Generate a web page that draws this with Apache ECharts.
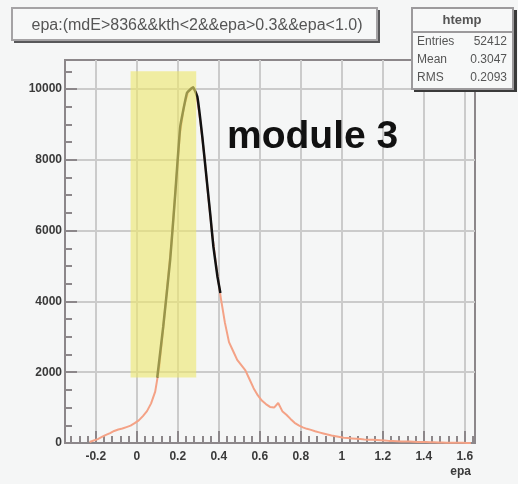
<!DOCTYPE html>
<html>
<head>
<meta charset="utf-8">
<script src="https://cdn.jsdelivr.net/npm/echarts@6/dist/echarts.min.js"></script>
<style>
  html, body { margin: 0; padding: 0; background: #f5f6f6; }
  #chart { width: 518px; height: 484px; }
</style>
</head>
<body>
<div id="chart"></div>
<script>
// epa distribution, bins of 0.02
const binCenters = [
  -0.23, -0.21, -0.19, -0.17, -0.15, -0.13, -0.11, -0.09, -0.07, -0.05, -0.03, -0.01,
  0.01, 0.03, 0.05, 0.07, 0.09, 0.11, 0.13, 0.15, 0.17, 0.19, 0.21, 0.23, 0.25, 0.27, 0.29,
  0.31, 0.33, 0.35, 0.37, 0.39, 0.41, 0.43, 0.45, 0.47, 0.49, 0.51, 0.53, 0.55, 0.57, 0.59,
  0.61, 0.63, 0.65, 0.67, 0.69, 0.71, 0.73, 0.75, 0.77, 0.79, 0.81, 0.83, 0.85, 0.87, 0.89,
  0.91, 0.93, 0.95, 0.97, 0.99, 1.01, 1.03, 1.05, 1.07, 1.09, 1.11, 1.13, 1.15, 1.17, 1.19,
  1.21, 1.23, 1.25, 1.27, 1.29, 1.31, 1.33, 1.35, 1.37, 1.39, 1.41, 1.43, 1.45, 1.47, 1.49,
  1.51, 1.53, 1.55, 1.57, 1.59, 1.61, 1.63
];
const binCounts = [
  30, 70, 110, 170, 230, 280, 340, 380, 410, 450, 490, 560,
  640, 760, 900, 1120, 1450, 2150, 3300, 4500, 5700, 7200, 8700, 9500, 9900, 10050, 9900,
  9100, 8100, 6900, 5800, 4900, 4100, 3400, 2850, 2600, 2350, 2200, 2050, 1800, 1550, 1350,
  1200, 1100, 1020, 1000, 1130, 900, 800, 680, 570, 500, 440, 400, 370, 330, 300,
  270, 240, 210, 190, 170, 150, 140, 130, 120, 110, 100, 95, 90, 85, 80,
  70, 60, 55, 50, 45, 40, 40, 35, 30, 30, 25, 20, 20, 15, 15,
  10, 10, 8, 5, 5, 3, 2
];

// fitted peak shape
const fitX = [0.10, 0.129, 0.163, 0.188, 0.212, 0.245, 0.275, 0.296, 0.32, 0.345, 0.36, 0.374, 0.394, 0.408];
const fitY = [1850, 3280, 5170, 7060, 8930, 9890, 10050, 9770, 8640, 7230, 6380, 5540, 4690, 4240];

// highlighted selection window
const bandX = [-0.03, 0.29];
const bandY = [1850, 10500];

// axes
const xRange = [-0.35, 1.65];
const yRange = [0, 10820];
const xMajorTicks = [-0.2, 0, 0.2, 0.4, 0.6, 0.8, 1.0, 1.2, 1.4, 1.6];
const yMajorTicks = [0, 2000, 4000, 6000, 8000, 10000];
const xTitle = 'epa';
const plotTitle = 'epa:(mdE>836&&kth<2&&epa>0.3&&epa<1.0)';
const moduleLabel = 'module 3';
const statsName = 'htemp';
const statsRows = [['Entries', '52412'], ['Mean', '0.3047'], ['RMS', '0.2093']];

// minor tick positions between the labelled ones
const xMinorTicks = [];
for (let i = -8; i <= 41; i++) {
  const v = +(i * 0.04).toFixed(2);
  if (i % 5 !== 0 && v > xRange[0] && v < xRange[1]) xMinorTicks.push(v);
}
const yMinorTicks = [];
for (let v = 500; v < yRange[1]; v += 500) {
  if (v % 2000 !== 0) yMinorTicks.push(v);
}

const histData = binCenters.map((x, i) => [x, binCounts[i]]);
const fitData = fitX.map((x, i) => [x, fitY[i]]);

const axisGray = '#8c878a';
const gridGray = '#cbcbcb';
const labelFont = { fontFamily: 'Liberation Sans', fontSize: 12, fontWeight: 'bold', color: '#3a3a3a' };

const chart = echarts.init(document.getElementById('chart'), null, { renderer: 'canvas' });

const statsGraphics = [];
statsRows.forEach((row, i) => {
  statsGraphics.push({
    type: 'text', x: 417, y: 42 + i * 18,
    style: { text: row[0], font: '12px Liberation Sans', fill: '#555', verticalAlign: 'middle' }, z: 20
  });
  statsGraphics.push({
    type: 'text', x: 507, y: 42 + i * 18,
    style: { text: row[1], font: '12px Liberation Sans', fill: '#555', textAlign: 'right', verticalAlign: 'middle' }, z: 20
  });
});

chart.setOption({
  backgroundColor: '#f5f6f6',
  animation: false,
  grid: {
    left: 65, right: 43, top: 60, bottom: 41,
    show: true, borderColor: axisGray, borderWidth: 2, backgroundColor: 'transparent'
  },
  xAxis: [{
    type: 'value', min: xRange[0], max: xRange[1], position: 'bottom',
    axisLine: { show: true, onZero: false, lineStyle: { color: axisGray, width: 2 } },
    axisTick: { show: true, inside: true, length: 12, customValues: xMajorTicks, lineStyle: { color: axisGray, width: 2 } },
    axisLabel: {
      show: true, customValues: xMajorTicks, margin: 8, ...labelFont,
      formatter: v => String(+(+v).toFixed(1))
    },
    splitLine: { show: true, lineStyle: { color: gridGray, width: 2 } },
    name: xTitle, nameLocation: 'end', nameGap: -4,
    nameTextStyle: { ...labelFont, align: 'right', verticalAlign: 'top', padding: [23, 0, 0, 0] }
  }, {
    type: 'value', min: xRange[0], max: xRange[1], position: 'bottom',
    axisLine: { show: false, onZero: false },
    axisTick: { show: true, inside: true, length: 7, customValues: xMinorTicks, lineStyle: { color: axisGray, width: 2 } },
    axisLabel: { show: false },
    splitLine: { show: false }
  }],
  yAxis: [{
    type: 'value', min: yRange[0], max: yRange[1], position: 'left',
    axisLine: { show: true, onZero: false, lineStyle: { color: axisGray, width: 2 } },
    axisTick: { show: true, inside: true, length: 12, customValues: yMajorTicks, lineStyle: { color: axisGray, width: 2 } },
    axisLabel: { show: true, customValues: yMajorTicks, margin: 3, ...labelFont, formatter: v => String(v) },
    splitLine: { show: true, lineStyle: { color: gridGray, width: 2 } }
  }, {
    type: 'value', min: yRange[0], max: yRange[1], position: 'left',
    axisLine: { show: false, onZero: false },
    axisTick: { show: true, inside: true, length: 7, customValues: yMinorTicks, lineStyle: { color: axisGray, width: 2 } },
    axisLabel: { show: false },
    splitLine: { show: false }
  }],
  series: [{
    type: 'line', name: 'epa', data: histData, xAxisIndex: 0, yAxisIndex: 0,
    symbol: 'none', z: 3,
    lineStyle: { color: '#f4a286', width: 2 }
  }, {
    type: 'line', name: 'fit', data: fitData, xAxisIndex: 0, yAxisIndex: 0,
    symbol: 'none', smooth: 0.1, z: 4,
    lineStyle: { color: '#111', width: 2.5 }
  }, {
    // translucent window drawn over the curves
    type: 'custom', name: 'window', xAxisIndex: 0, yAxisIndex: 0, z: 10, silent: true,
    data: [[bandX[0], bandY[0], bandX[1], bandY[1]]],
    renderItem: (params, api) => {
      const p0 = api.coord([api.value(0), api.value(3)]);
      const p1 = api.coord([api.value(2), api.value(1)]);
      return {
        type: 'rect',
        shape: { x: p0[0], y: p0[1], width: p1[0] - p0[0], height: p1[1] - p0[1] },
        style: { fill: 'rgba(238, 230, 110, 0.62)' }
      };
    }
  }],
  graphic: [
    // title box
    { type: 'rect', shape: { x: 14, y: 10, width: 366, height: 33 }, style: { fill: '#58585a' }, z: 18 },
    { type: 'rect', shape: { x: 12, y: 8, width: 365, height: 32 }, style: { fill: '#f7f8f8', stroke: '#a5a3a5', lineWidth: 2 }, z: 19 },
    { type: 'text', x: 197, y: 26, style: { text: plotTitle, font: '16px Liberation Sans', fill: '#555', textAlign: 'center', verticalAlign: 'middle' }, z: 20 },
    // statistics box
    { type: 'rect', shape: { x: 414, y: 10, width: 103, height: 82 }, style: { fill: '#3a3a3a' }, z: 18 },
    { type: 'rect', shape: { x: 412, y: 8, width: 101, height: 81 }, style: { fill: '#f7f8f8', stroke: '#9c9a9c', lineWidth: 2 }, z: 19 },
    { type: 'line', shape: { x1: 412, y1: 32, x2: 513, y2: 32 }, style: { stroke: '#9c9a9c', lineWidth: 2 }, z: 20 },
    { type: 'text', x: 462, y: 20, style: { text: statsName, font: 'bold 13px Liberation Sans', fill: '#555', textAlign: 'center', verticalAlign: 'middle' }, z: 20 },
    ...statsGraphics,
    // module label
    { type: 'text', x: 227, y: 118, style: { text: moduleLabel, font: 'bold 39px Liberation Sans', fill: '#111' }, z: 20 }
  ]
});
</script>
</body>
</html>
